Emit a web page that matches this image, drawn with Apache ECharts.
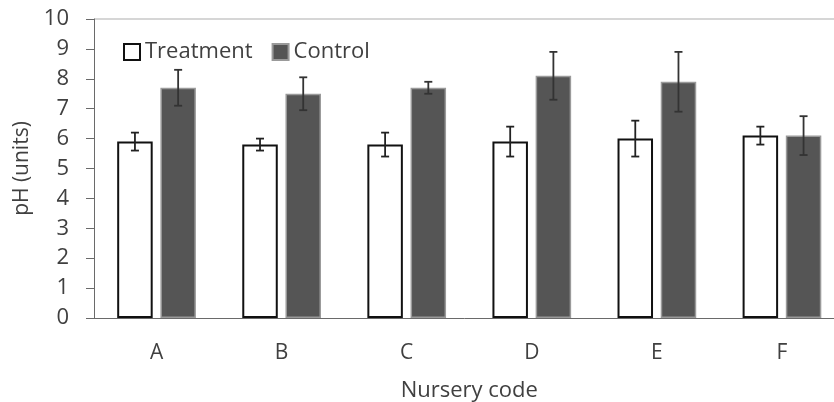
<!DOCTYPE html>
<html>
<head>
<meta charset="utf-8">
<script src="https://cdn.jsdelivr.net/npm/echarts@6/dist/echarts.min.js"></script>
<style>html,body{margin:0;padding:0;background:#fff;}#c{width:834px;height:402px;}</style>
</head>
<body>
<div id="c"></div>
<script>
var categories = ['A', 'B', 'C', 'D', 'E', 'F'];
var treatment = [5.9, 5.8, 5.8, 5.9, 6.0, 6.1];
var treatmentErr = [0.3, 0.2, 0.4, 0.5, 0.6, 0.3];
var control = [7.7, 7.5, 7.7, 8.1, 7.9, 6.1];
var controlErr = [0.6, 0.55, 0.2, 0.8, 1.0, 0.65];
var yTicks = [0, 1, 2, 3, 4, 5, 6, 7, 8, 9, 10];

var FONT = '"Open Sans", "Noto Sans", sans-serif';
var TXT = '#404040';
var OFFSET = 21.6;

function errSeries(vals, errs, offset, color) {
  return {
    type: 'custom',
    name: 'err',
    silent: true,
    z: 5,
    data: vals.map(function (v, i) { return [i, v, errs[i]]; }),
    renderItem: function (params, api) {
      var i = api.value(0), v = api.value(1), e = api.value(2);
      var hi = api.coord([i, v + e]);
      var lo = api.coord([i, v - e]);
      var x = hi[0] + offset;
      var cap = 4;
      var st = { stroke: color, lineWidth: 1.8 };
      return {
        type: 'group',
        children: [
          { type: 'line', shape: { x1: x, y1: hi[1], x2: x, y2: lo[1] }, style: st },
          { type: 'line', shape: { x1: x - cap, y1: hi[1], x2: x + cap, y2: hi[1] }, style: st },
          { type: 'line', shape: { x1: x - cap, y1: lo[1], x2: x + cap, y2: lo[1] }, style: st }
        ]
      };
    }
  };
}

var chart = echarts.init(document.getElementById('c'), null, { renderer: 'canvas' });
chart.setOption({
  animation: false,
  backgroundColor: '#fff',
  textStyle: { fontFamily: FONT },
  grid: { left: 94, top: 19, bottom: 84, right: -10.5, containLabel: false, outerBoundsMode: 'none' },
  legend: {
    data: ['Treatment', 'Control'],
    left: 118,
    top: 36,
    icon: 'rect',
    itemWidth: 16,
    itemHeight: 16,
    itemGap: 19,
    textStyle: { fontFamily: FONT, fontSize: 22, color: TXT }
  },
  xAxis: {
    type: 'category',
    data: categories,
    name: 'Nursery code',
    nameLocation: 'middle',
    nameGap: 62,
    nameTextStyle: { fontFamily: FONT, fontSize: 22, color: TXT },
    axisLine: { lineStyle: { color: '#6a6a6a', width: 1 } },
    axisTick: { alignWithLabel: true, length: 6, lineStyle: { color: '#6a6a6a' } },
    axisLabel: { fontFamily: FONT, fontSize: 21, color: TXT, margin: 25 }
  },
  yAxis: {
    type: 'value',
    min: yTicks[0],
    max: yTicks[yTicks.length - 1],
    interval: 1,
    name: 'pH (units)',
    nameLocation: 'middle',
    nameGap: 54,
    nameTextStyle: { fontFamily: FONT, fontSize: 21, color: TXT },
    axisLine: { show: true, lineStyle: { color: '#6a6a6a', width: 1 } },
    axisTick: { show: true, length: 8, lineStyle: { color: '#6a6a6a' } },
    axisLabel: { fontFamily: FONT, fontSize: 22, color: TXT, margin: 25 },
    splitLine: {
      show: true,
      lineStyle: {
        color: ['rgba(0,0,0,0)', 'rgba(0,0,0,0)', 'rgba(0,0,0,0)', 'rgba(0,0,0,0)', 'rgba(0,0,0,0)',
                'rgba(0,0,0,0)', 'rgba(0,0,0,0)', 'rgba(0,0,0,0)', 'rgba(0,0,0,0)', 'rgba(0,0,0,0)', '#c8c8c8'],
        width: 1.5
      }
    }
  },
  series: [
    {
      name: 'Treatment',
      type: 'bar',
      data: treatment,
      barWidth: 35.5,
      barGap: '21.7%',
      itemStyle: { color: '#ffffff', borderColor: '#111111', borderWidth: 2 }
    },
    {
      name: 'Control',
      type: 'bar',
      data: control,
      barWidth: 35.5,
      itemStyle: { color: '#555555', borderColor: '#9a9a9a', borderWidth: 1.5 }
    },
    errSeries(treatment, treatmentErr, -OFFSET, '#222222'),
    errSeries(control, controlErr, OFFSET, '#333333')
  ]
});
</script>
</body>
</html>
